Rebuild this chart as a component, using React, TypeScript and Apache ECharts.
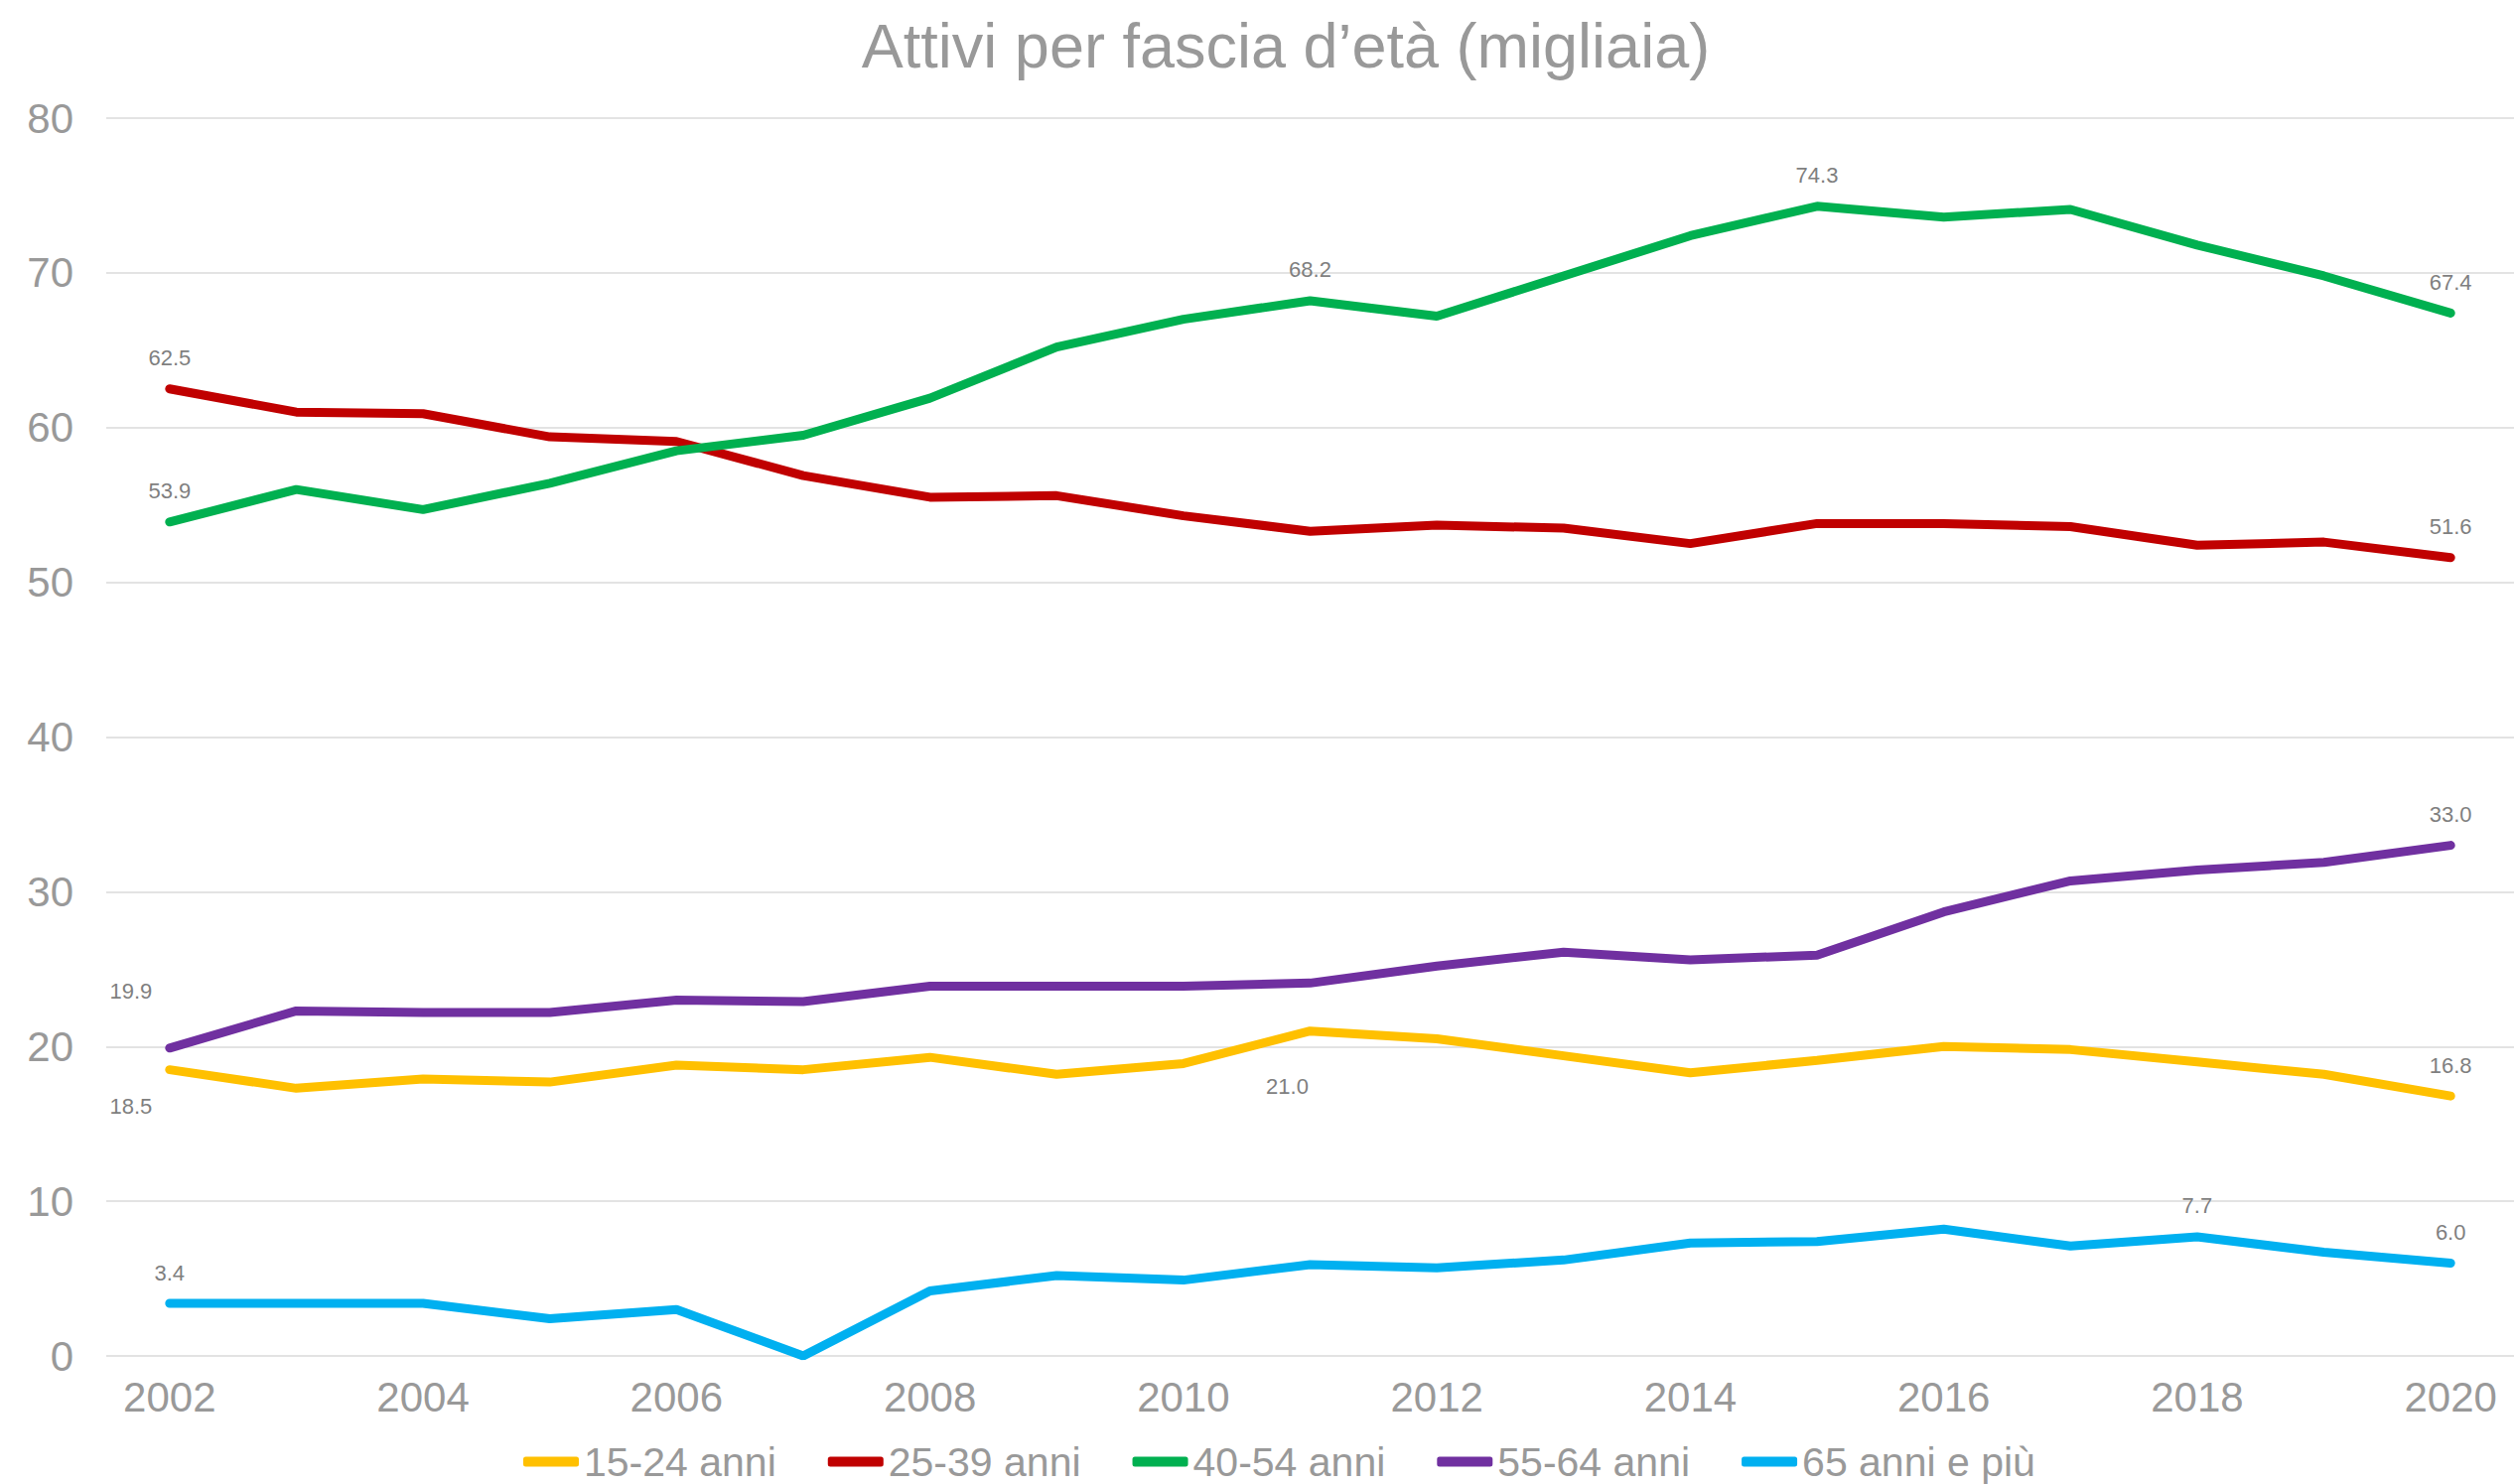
import React, { useEffect, useRef } from "react";
import * as echarts from "echarts";

const years = ["2002","2003","2004","2005","2006","2007","2008","2009","2010","2011","2012","2013","2014","2015","2016","2017","2018","2019","2020"];
const seriesNames = ["15-24 anni", "25-39 anni", "40-54 anni", "55-64 anni", "65 anni e più"];
const s1524 = [18.5,17.3,17.9,17.7,18.8,18.5,19.3,18.2,18.9,21.0,20.5,19.4,18.3,19.1,20.0,19.8,19.0,18.2,16.8];
const s2539 = [62.5,61.0,60.9,59.4,59.1,56.9,55.5,55.6,54.3,53.3,53.7,53.5,52.5,53.8,53.8,53.6,52.4,52.6,51.6];
const s4054 = [53.9,56.0,54.7,56.4,58.5,59.5,61.9,65.2,67.0,68.2,67.2,69.8,72.4,74.3,73.6,74.1,71.8,69.8,67.4];
const s5564 = [19.9,22.3,22.2,22.2,23.0,22.9,23.9,23.9,23.9,24.1,25.2,26.1,25.6,25.9,28.7,30.7,31.4,31.9,33.0];
const s65 = [3.4,3.4,3.4,2.4,3.0,0.0,4.2,5.2,4.9,5.9,5.7,6.2,7.3,7.4,8.2,7.1,7.7,6.7,6.0];
const yTicks = [0, 10, 20, 30, 40, 50, 60, 70, 80];

// indices of points that carry a data label
const labeled1524 = [0, 9, 18];
const labeled2539 = [0, 18];
const labeled4054 = [0, 9, 13, 18];
const labeled5564 = [0, 18];
const labeled65 = [0, 16, 18];

const colors = ["#FFC000", "#C00000", "#00B050", "#7030A0", "#00B0F0"];
const FONT = "'Liberation Sans', Arial, Helvetica, sans-serif";

// special label placements (series index - point index): label centre relative to the point
const specialLabels: Record<string, number[]> = {
  "0-0": [-39, 37],
  "0-9": [-23, 56],
  "3-0": [-39, -57],
};

function buildData(si: number, values: number[], labeled: number[]) {
  return values.map((v, i) => {
    if (!labeled.includes(i)) return { value: v, label: { show: false } };
    const sp = specialLabels[`${si}-${i}`];
    if (sp) {
      return {
        value: v,
        label: {
          show: true,
          position: [sp[0] + 1, sp[1] + 1],
          align: "center",
          verticalAlign: "middle",
        },
      };
    }
    return {
      value: v,
      label: { show: true, position: "top", distance: 19 },
    };
  });
}

export default function App() {
  const ref = useRef<HTMLDivElement>(null);
  useEffect(() => {
    if (!ref.current) return;
    const chart = echarts.init(ref.current, undefined, { renderer: "svg" });
    const all = [s1524, s2539, s4054, s5564, s65];
    const labs = [labeled1524, labeled2539, labeled4054, labeled5564, labeled65];
    chart.setOption({
      animation: false,
      backgroundColor: "#ffffff",
      textStyle: { fontFamily: FONT },
      title: {
        text: "Attivi per fascia d\u2019et\u00e0 (migliaia)",
        left: 1290,
        top: 9,
        textAlign: "center",
        textStyle: { fontSize: 63, fontWeight: "normal", color: "#999999", fontFamily: FONT },
      },
      legend: {
        data: seriesNames,
        left: 522,
        top: 1447,
        itemWidth: 56,
        itemHeight: 10,
        itemGap: 52,
        icon: "roundRect",
        textStyle: { fontSize: 41, color: "#999999", fontFamily: FONT, lineHeight: 41 },
      },
      grid: { left: 107, top: 119, width: 2436, height: 1247, containLabel: false },
      xAxis: {
        type: "category",
        data: years,
        boundaryGap: true,
        axisLine: { show: false },
        axisTick: { show: false },
        axisLabel: { interval: 1, color: "#999999", fontSize: 42, margin: 20, fontFamily: FONT },
        splitLine: { show: false },
      },
      yAxis: {
        type: "value",
        min: yTicks[0],
        max: yTicks[yTicks.length - 1],
        interval: 10,
        axisLine: { show: false },
        axisTick: { show: false },
        axisLabel: { color: "#999999", fontSize: 42, margin: 33, fontFamily: FONT },
        splitLine: { show: true, lineStyle: { color: "#e3e3e3", width: 2 } },
      },
      series: all.map((vals, si) => ({
        name: seriesNames[si],
        type: "line",
        data: buildData(si, vals, labs[si]),
        symbol: "circle",
        symbolSize: 2,
        showSymbol: true,
        showAllSymbol: true,
        color: colors[si],
        itemStyle: { color: colors[si] },
        lineStyle: { width: 9, color: colors[si], cap: "round" },
        label: {
          show: false,
          formatter: (p: any) => Number(p.value).toFixed(1),
          color: "#7f7f7f",
          fontSize: 22,
          fontFamily: FONT,
        },
        labelLayout: { hideOverlap: false },
        emphasis: { disabled: true },
      })),
    });
    return () => chart.dispose();
  }, []);
  return (
    <div
      ref={ref}
      style={{ position: "absolute", left: 0, top: 0, width: 2532, height: 1495 }}
    />
  );
}
